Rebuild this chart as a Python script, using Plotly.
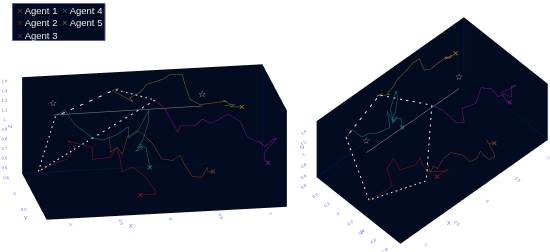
import plotly.graph_objects as go

x1 = [-.54,-.54,-.47,-.42,-.38,-.29,-.245,-.14,-.06,.05,.13,.17,.25,.34,.37,.44,.44,.48]
y1 = [-.608,-.659,-.633,-.653,-.715,-.749,-.82,-.796,-.835,-.835,-.807,-.835,-.835,-.835,-.778,-.586,-.633,-.68]
z1 = [1.17,1.03,1.07,1.00,1.20,1.269,1.26,1.14,.995,.97,1.01,.92,.793,.78,.788,.795,.76,.78]

x2 = [-1.2,-1.03,-.94,-.82,-.90,-.63,-.65,-.49,-.43,-.39,-.39,-.315,-.18,-.065,-.04,-.20]
y2 = [-.296,-.40,-.42,-.208,-.277,-.115,-.251,-.351,-.367,-.328,-.43,-.65,-.58,-.47,-.395,-.41]
z2 = [.746,.866,.898,.948,1.04,.904,.826,.872,.978,.86,.74,.86,.73,.55,.48,.485]

x3 = [0,.08,.19,.19,.376,.43,.53,.71,.82,.89,1.02,1.05,1.15,1.18,1.09,1.06,1.10]
y3 = [-.108,-.213,-.322,-.467,-.229,-.33,-.308,-.206,-.264,-.309,-.282,-.366,-.263,-.316,-.153,-.273,-.285]
z3 = [1.36,1.296,1.085,1.20,1.11,1.21,1.155,1.206,1.146,.989,.92,.904,.937,.97,.78,.735,.706]

x4 = [-.91,-.82,-.73,-.53,-.44,-.32,-.17,-.19,-.07,.05,.04,-.02,-.08,-.04,-.1,-.02,-.06,0,.04]
y4 = [.409,.39,.327,.433,.371,.275,.483,.354,.535,.562,.527,.506,.493,.45,.47,.5,.46,.426,.448]
z4 = [1.067,1.14,1.00,.816,.81,.89,.895,.824,.82,1.03,.92,.74,.665,.70,.64,.66,.72,.684,.474]

x5 = [-.30,-.33,-.27,-.30,-.25,-.12,-.15,-.05,.02,.18,.25,.37,.40,.45,.55,.68,.82,.78,.86,.80,.90,.85,.97]
y5 = [.48,.50,.46,.52,.50,.49,.50,.50,.50,.50,.50,.50,.50,.50,.50,.50,.50,.50,.47,.52,.50,.50,.51]
z5 = [1.29,1.27,1.31,1.25,1.23,1.15,1.19,1.24,1.32,1.365,1.41,1.405,1.30,1.14,1.08,1.09,1.10,1.11,1.07,1.05,1.06,1.04,1.03]

names = ["Agent 1", "Agent 2", "Agent 3", "Agent 4", "Agent 5"]
colors = ["#7a4020", "#8a0f1a", "#8a0f90", "#0f7a80", "#8a6a1a"]
paths = [(x1,y1,z1),(x2,y2,z2),(x3,y3,z3),(x4,y4,z4),(x5,y5,z5)]

poly_x = [-1.2,-.91,-.30,0,-.79,-1.2]
poly_y = [-.296,.409,.48,-.108,-.85,-.296]
poly_z = [.746,1.067,1.29,1.36,1.23,.746]
star_x = [-1.01,.475]
star_y = [-.045,-.074]
star_z = [1.24,1.26]

xr = [-1.21,1.19]
yr = [-.85,.6]
zr = [.43,1.43]

BG = "#020b1f"
EDGE = "#0a1a70"
TICK = "#6a6af0"

fig = go.Figure()

def add_all(scene):
    fig.add_trace(go.Scatter3d(
        x=[xr[0],xr[1],xr[1],xr[1],xr[1]],
        y=[yr[1],yr[1],yr[0],yr[1],yr[1]],
        z=[zr[0],zr[0],zr[0],zr[0],zr[1]],
        mode="lines", line=dict(color=EDGE,width=1),
        hoverinfo="skip", showlegend=False, scene=scene))
    fig.add_trace(go.Scatter3d(
        x=poly_x,y=poly_y,z=poly_z,mode="lines",
        line=dict(color="#e8e8e8",width=2,dash="dash"),
        showlegend=False,scene=scene))
    fig.add_trace(go.Scatter3d(
        x=star_x,y=star_y,z=star_z,mode="lines+text",text=["☆","☆"],
        textfont=dict(color="#b0b0b0",size=9,family="DejaVu Sans"),
        line=dict(color="#8a8a8a",width=1),
        showlegend=False,scene=scene))
    for (px,py,pz),name,c in zip(paths,names,colors):
        fig.add_trace(go.Scatter3d(
            x=px,y=py,z=pz,mode="lines",name=name,
            line=dict(color=c,width=1),showlegend=False,scene=scene))
        fig.add_trace(go.Scatter3d(
            x=px[-1:],y=py[-1:],z=pz[-1:],mode="markers",name=name,
            marker=dict(color=c,size=1,symbol="x"),showlegend=False,scene=scene))

add_all("scene")
add_all("scene2")

def axis(rng, ticks):
    return dict(title=dict(text=""),
                range=rng,tickvals=ticks,ticktext=[f"{t:g}" for t in ticks],
                tickfont=dict(size=7,color=TICK,family="Liberation Sans"),
                showbackground=True,backgroundcolor=BG,showgrid=False,
                zeroline=False,showline=False,showspikes=False,
                ticks="outside",ticklen=0,tickcolor=TICK,tickwidth=1)

xt = [-1,-.5,0,.5,1]
kl, kr = .923, .70
cx2, cy2 = -.0737, .0694  # moves the right-hand box back to its place in the wider domain
fig.update_layout(
    width=550,height=252,margin=dict(l=0,r=0,t=0,b=0),
    paper_bgcolor="white",showlegend=False,
    scene=dict(domain=dict(x=[0,309/550],y=[0,220/252]),
        xaxis=axis(xr,xt),yaxis=axis(yr,[-.5,0,.5]),
        zaxis=axis(zr,[.5,.6,.7,.8,.9,1,1.1,1.2,1.3,1.4]),
        aspectmode="manual",aspectratio=dict(x=2.4*kl,y=1.45*kl,z=1*kl),
        camera=dict(projection=dict(type="orthographic"),up=dict(x=0,y=0,z=1),
                    eye=dict(x=-.158*1.5,y=-.935*1.5,z=.319*1.5))),
    scene2=dict(domain=dict(x=[290/550,1],y=[1/252,242/252]),
        xaxis=axis(xr,xt),yaxis=axis(yr,[-.8,-.6,-.4,-.2,0,.2,.4,.6]),
        zaxis=axis(zr,[.6,.8,1,1.2,1.4]),
        aspectmode="manual",aspectratio=dict(x=2.4*kr,y=1.45*kr,z=1*kr),
        camera=dict(projection=dict(type="orthographic"),up=dict(x=0,y=0,z=1),
                    center=dict(x=cx2,y=cy2,z=0),
                    eye=dict(x=-.455*1.5+cx2,y=-.483*1.5+cy2,z=.749*1.5))),
    shapes=[dict(type="rect",xref="paper",yref="paper",x0=12.5/550,x1=105/550,
                 y0=1-40.5/252,y1=1-3.5/252,fillcolor=BG,line=dict(color="#5a5ab0",width=1))],
)

def leg(items, xpx):
    txt = "<br>".join(f'<span style="color:{c}">×</span> {n}' for n,c in items)
    fig.add_annotation(xref="paper",yref="paper",x=xpx/550,y=1-3/252,xanchor="left",yanchor="top",
        text=txt,showarrow=False,align="left",
        font=dict(color="#e6e6e6",size=9.5,family="Liberation Sans"))

leg(list(zip(names[:3],colors[:3])),15)
leg(list(zip(names[3:],colors[3:])),60)

for txt,px,py,ang in [("X",127,231,0),("Y",22,223,0),("Z",5,126,-90),
                      ("X",453,228,0),("Y",362,237,0),("Z",302,147,-90)]:
    fig.add_annotation(xref="paper",yref="paper",x=px/550,y=1-py/252,showarrow=False,text=txt,
        textangle=ang,font=dict(size=5.5,color=TICK,family="Liberation Sans"))

fig.write_html("out.html",config=dict(displayModeBar=False),
               post_script="document.body.style.margin='0';")
